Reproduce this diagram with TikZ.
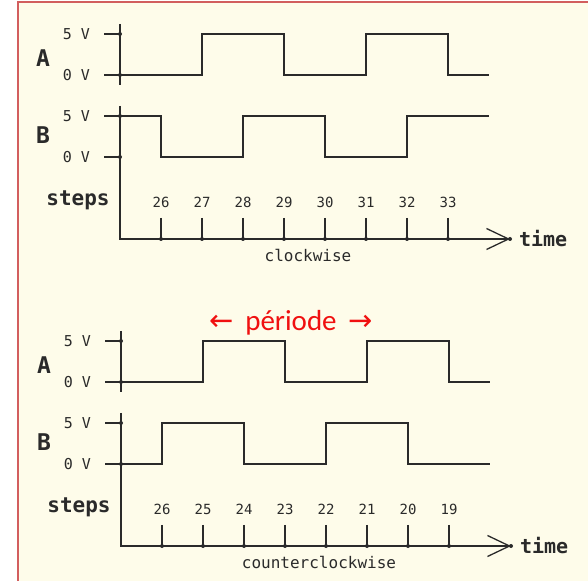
\documentclass[tikz,border=0pt]{standalone}
\usepackage{fontspec}
\setmonofont{DejaVu Sans Mono}
\newfontfamily\periodfont{Carlito}
\newfontfamily\arrowfont{DejaVu Sans}
\usepackage{xcolor}
\usetikzlibrary{arrows.meta}
\definecolor{paper}{HTML}{FEFCEA}
\definecolor{framered}{HTML}{D25E5E}
\definecolor{ink}{HTML}{2A2A2A}
\definecolor{periodred}{HTML}{F01010}

\begin{document}
\begin{tikzpicture}[x=0.5pt,y=-0.5pt,
    wave/.style={ink,line width=0.65pt},
    axisline/.style={ink,line width=0.65pt},
    timearrow/.style={axisline,-{Straight Barb[length=11pt,width=10.5pt,line width=0.65pt]}},
    volt/.style={ink,anchor=east,font=\ttfamily\fontsize{7.5}{9}\selectfont},
    stepnum/.style={ink,font=\ttfamily\fontsize{7}{9}\selectfont},
    chan/.style={ink,font=\ttfamily\bfseries\fontsize{11.5}{13}\selectfont},
    bigword/.style={ink,font=\ttfamily\bfseries\fontsize{10.5}{12}\selectfont},
    sense/.style={ink,font=\ttfamily\fontsize{8}{10}\selectfont}]
    \useasboundingbox (0,0) rectangle (588,581);
    \fill[paper] (18,2) rectangle (588,581);
    \draw[framered,line width=1.2pt] (18,581) -- (18,2) -- (588,2);

    % clockwise
    \begin{scope}
      \coordinate (cwO) at (120,239);
      \coordinate (cwT) at (510,239);
      \draw[axisline] (120,24) -- (120,85);
      \draw[axisline] (104,34) -- (120,34) (104,75) -- (120,75);
      \draw[axisline] (104,116) -- (120,116) (104,157) -- (120,157);
      \fill[ink] (120,34) circle[radius=1pt] (120,75) circle[radius=1pt]
                 (120,116) circle[radius=1pt] (120,157) circle[radius=1pt];
      \node[volt] (cwA5) at (97,34) {5 V};
      \node[volt] (cwA0) at (97,75) {0 V};
      \node[volt] (cwB5) at (97,116) {5 V};
      \node[volt] (cwB0) at (97,157) {0 V};
      \node[chan] (cwA) at (43,58) {A};
      \node[chan] (cwB) at (43,135) {B};
      \draw[wave] (120,75) -- (202,75) -- (202,34) -- (284,34) -- (284,75)
        -- (366,75) -- (366,34) -- (448,34) -- (448,75) -- (489,75);
      \draw[wave] (120,116) -- (161,116) -- (161,157) -- (243,157) -- (243,116)
        -- (325,116) -- (325,157) -- (407,157) -- (407,116) -- (489,116);
      \draw[timearrow] (120,106) -- (cwO) -- (cwT);
      \fill[ink] (cwT) circle[radius=1pt];
      \foreach \x/\n in {161/26,202/27,243/28,284/29,325/30,366/31,407/32,448/33} {
        \draw[axisline] (\x,218) -- (\x,239);
        \fill[ink] (\x,239) circle[radius=1pt];
        \node[stepnum] (cw\n) at (\x,202) {\n};
      }
      \node[bigword] (cwsteps) at (78,200) {steps};
      \node[bigword,anchor=west,font=\ttfamily\bfseries\fontsize{10}{12}\selectfont] (cwtime) at (512,239) {time};
      \node[sense] (cwsense) at (308,255) {clockwise};
    \end{scope}

    \node[periodred,font=\periodfont\fontsize{14.5}{16}\selectfont] (period) at (291,323)
      {{\arrowfont ←}\hspace{6pt}période\hspace{6pt}{\arrowfont →}};

    % counterclockwise
    \begin{scope}[shift={(1,307)}]
      \coordinate (ccwO) at (120,239);
      \coordinate (ccwT) at (510,239);
      \draw[axisline] (120,24) -- (120,85);
      \draw[axisline] (104,34) -- (120,34) (104,75) -- (120,75);
      \draw[axisline] (104,116) -- (120,116) (104,157) -- (120,157);
      \fill[ink] (120,34) circle[radius=1pt] (120,75) circle[radius=1pt]
                 (120,116) circle[radius=1pt] (120,157) circle[radius=1pt];
      \node[volt] (ccwA5) at (97,34) {5 V};
      \node[volt] (ccwA0) at (97,75) {0 V};
      \node[volt] (ccwB5) at (97,116) {5 V};
      \node[volt] (ccwB0) at (97,157) {0 V};
      \node[chan] (ccwA) at (43,58) {A};
      \node[chan] (ccwB) at (43,135) {B};
      \draw[wave] (120,75) -- (202,75) -- (202,34) -- (284,34) -- (284,75)
        -- (366,75) -- (366,34) -- (448,34) -- (448,75) -- (489,75);
      \draw[wave] (120,157) -- (161,157) -- (161,116) -- (243,116) -- (243,157)
        -- (325,157) -- (325,116) -- (407,116) -- (407,157) -- (489,157);
      \draw[timearrow] (120,106) -- (ccwO) -- (ccwT);
      \fill[ink] (ccwT) circle[radius=1pt];
      \foreach \x/\n in {161/26,202/25,243/24,284/23,325/22,366/21,407/20,448/19} {
        \draw[axisline] (\x,218) -- (\x,239);
        \fill[ink] (\x,239) circle[radius=1pt];
        \node[stepnum] (ccw\n) at (\x,202) {\n};
      }
      \node[bigword] (ccwsteps) at (78,200) {steps};
      \node[bigword,anchor=west,font=\ttfamily\bfseries\fontsize{10}{12}\selectfont] (ccwtime) at (512,239) {time};
      \node[sense] (ccwsense) at (318,255) {counterclockwise};
    \end{scope}
\end{tikzpicture}
\end{document}
